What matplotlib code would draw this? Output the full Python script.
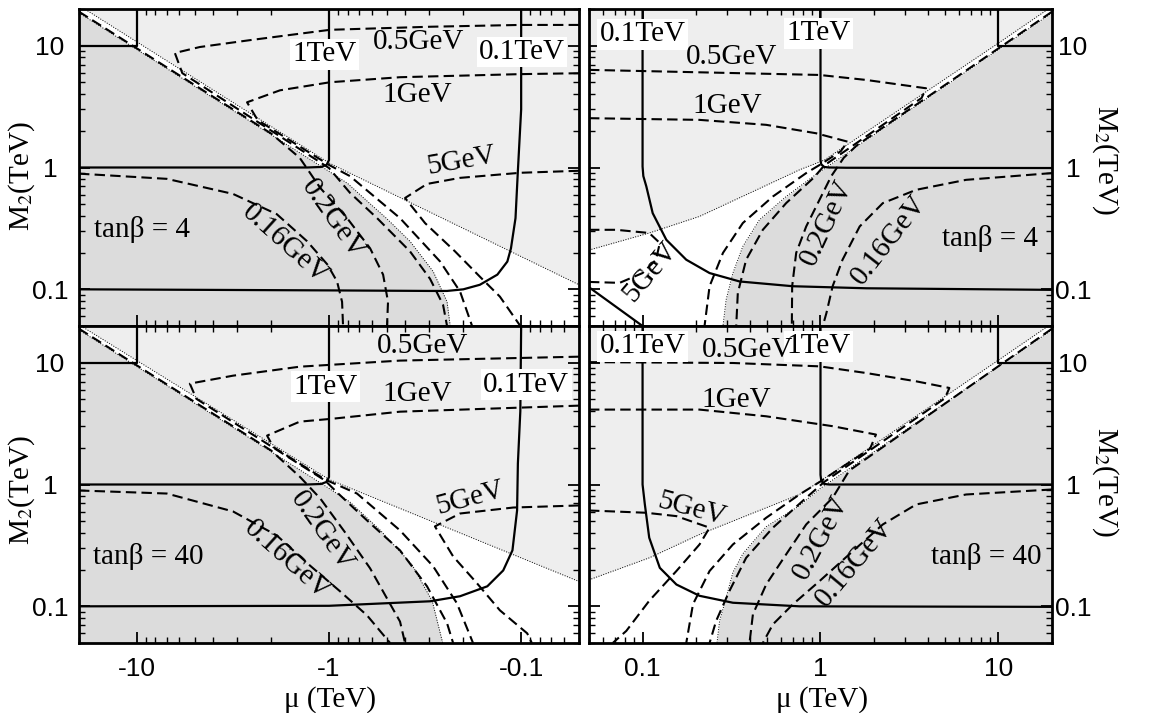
import matplotlib.pyplot as plt
from matplotlib.ticker import NullFormatter

plt.rcParams['font.family'] = ['Liberation Serif', 'DejaVu Serif']
plt.rcParams['mathtext.fontset'] = 'stix'

LIGHT = '#eeeeee'
DARK = '#dcdcdc'

# every curve is (mu, M2) in TeV; in the mu<0 panels mu is kept as |mu|
tev10 = ([20, 10, 10], [10, 10, 20])

# top left: tan(beta) = 4, mu < 0
tl_dot = ([20, 1.0, 0.05], [21.4, 1.09, 0.109])
tl_dark = ([20, 1.0, 0.8, 0.634, 0.5, 0.379, 0.287, 0.243, 0.234],
           [18.6, 0.93, 0.74, 0.531, 0.38, 0.248, 0.14, 0.079, 0.05])
tl_tev1 = ([20, 1.3, 1.1, 1.03, 1.0, 1.0], [1.0, 1.0, 1.01, 1.05, 1.15, 20])
tl_tev01 = ([20, 1.0, 0.3, 0.243, 0.2, 0.164, 0.133, 0.118, 0.113, 0.107, 0.104, 0.1, 0.1],
            [0.1, 0.098, 0.097, 0.097, 0.1, 0.109, 0.132, 0.169, 0.217, 0.384, 0.94, 3.0, 20])
tl_gev016 = ([20, 6.98, 3.16, 1.87, 1.3, 1.02, 0.908, 0.855, 0.845],
             [0.89, 0.807, 0.607, 0.414, 0.248, 0.16, 0.116, 0.079, 0.05])
tl_gev02 = ([20, 2.0, 1.42, 1.11, 0.805, 0.611, 0.523, 0.493, 0.499],
            [19.0, 1.9, 1.2, 0.679, 0.384, 0.217, 0.132, 0.079, 0.05])
tl_gev05 = ([0.05, 0.101, 0.298, 0.988, 2.58, 4.7, 6.34, 5.8, 1.0, 0.778, 0.562, 0.379, 0.298, 0.255, 0.243],
            [14.8, 14.8, 14.3, 13.5, 11.1, 9.75, 8.71, 5.95, 0.99, 0.62, 0.384, 0.205, 0.122, 0.0748, 0.05])
tl_gev1 = ([0.05, 0.101, 0.427, 0.988, 1.8, 2.67, 2.35, 1.0, 0.778, 0.427, 0.264, 0.208, 0.18],
           [5.94, 5.84, 5.51, 5.01, 4.3, 3.43, 2.45, 1.05, 0.85, 0.384, 0.169, 0.096, 0.05])
tl_gev5 = ([0.05, 0.101, 0.208, 0.309, 0.402, 0.316, 0.221, 0.164, 0.129, 0.101],
           [0.94, 0.905, 0.822, 0.733, 0.562, 0.349, 0.205, 0.127, 0.0871, 0.05])

# bottom left: tan(beta) = 40, mu < 0
bl_dot = ([20, 1.0, 0.05], [20.5, 1.1, 0.16])
bl_dark = ([20, 1.0, 0.78, 0.54, 0.37, 0.29, 0.256],
           [18.6, 0.93, 0.72, 0.42, 0.22, 0.11, 0.05])
bl_tev1 = ([20, 1.3, 1.1, 1.03, 1.0, 1.0], [1.0, 1.0, 1.01, 1.05, 1.15, 20])
bl_tev01 = ([20, 1.0, 0.298, 0.208, 0.15, 0.124, 0.111, 0.105, 0.104, 0.101, 0.1],
            [0.1, 0.101, 0.11, 0.121, 0.146, 0.197, 0.288, 0.612, 1.49, 4.0, 20])
bl_gev016 = ([20, 6.98, 3.16, 1.87, 1.26, 0.877, 0.634, 0.481],
             [0.893, 0.843, 0.601, 0.382, 0.217, 0.133, 0.0843, 0.05])
bl_gev02 = ([20, 2.0, 1.42, 1.11, 0.83, 0.611, 0.499, 0.427, 0.402],
            [19.0, 1.9, 1.16, 0.767, 0.41, 0.205, 0.116, 0.075, 0.05])
bl_gev05 = ([0.05, 0.427, 1.42, 3.16, 5.3, 4.9, 1.05, 0.9, 0.634, 0.427, 0.309, 0.243, 0.226],
            [11.2, 10.4, 9.27, 7.82, 6.73, 5.05, 1.08, 0.85, 0.507, 0.288, 0.146, 0.0726, 0.05])
bl_gev1 = ([0.05, 0.427, 0.953, 1.42, 2.1, 1.95, 1.05, 0.715, 0.427, 0.287, 0.216, 0.178],
           [4.44, 3.96, 3.47, 3.28, 2.52, 2.03, 1.1, 0.843, 0.42, 0.213, 0.106, 0.05])
bl_gev5 = ([0.05, 0.11, 0.208, 0.281, 0.226, 0.17, 0.129, 0.093, 0.088],
           [0.673, 0.647, 0.578, 0.453, 0.257, 0.155, 0.0927, 0.06, 0.05])

# top right: tan(beta) = 4, mu > 0
tr_dot = ([0.05, 0.109, 0.209, 0.399, 0.762, 1.05, 10, 20],
          [0.21, 0.29, 0.397, 0.616, 0.957, 1.15, 10.5, 21])
tr_dark = ([20, 1.0, 0.946, 0.641, 0.454, 0.366, 0.322, 0.295, 0.283],
           [18.6, 0.93, 0.88, 0.578, 0.372, 0.225, 0.136, 0.0822, 0.05])
tr_tev1 = ([1.0, 1.0, 1.01, 1.05, 1.12, 1.4, 20], [20, 1.15, 1.06, 1.01, 1.0, 0.995, 0.99])
tr_tev01 = ([0.1, 0.1, 0.101, 0.105, 0.114, 0.136, 0.176, 0.238, 0.351, 0.7, 1.81, 20],
            [20, 1.02, 0.85, 0.699, 0.422, 0.255, 0.175, 0.136, 0.116, 0.106, 0.102, 0.099])
tr_low = ([0.05, 0.1], [0.104, 0.05])
tr_gev016 = ([20, 6.58, 3.45, 2.24, 1.66, 1.33, 1.17, 1.08, 1.03],
             [0.9, 0.792, 0.656, 0.51, 0.328, 0.175, 0.106, 0.064, 0.05])
tr_gev02 = ([20, 1.6, 1.35, 1.15, 0.987, 0.831, 0.73, 0.693, 0.69],
            [19.0, 1.52, 1.2, 0.85, 0.543, 0.328, 0.199, 0.106, 0.05])
tr_gev05 = ([0.05, 0.987, 1.81, 3.92, 3.7, 1.05, 0.92, 0.641, 0.474, 0.382, 0.343, 0.336],
            [6.33, 5.75, 5.23, 4.47, 3.72, 1.04, 0.83, 0.51, 0.308, 0.175, 0.0933, 0.05])
tr_gev1 = ([0.05, 0.209, 0.495, 0.945, 1.42, 1.3, 1.0, 0.831, 0.54, 0.366, 0.283, 0.238, 0.223],
           [2.54, 2.46, 2.24, 1.91, 1.63, 1.36, 1.06, 0.9, 0.578, 0.35, 0.199, 0.106, 0.05])
tr_gev5 = ([0.05, 0.0711, 0.109, 0.125, 0.119, 0.1, 0.0743, 0.05],
           [0.308, 0.308, 0.29, 0.24, 0.175, 0.136, 0.113, 0.115])

# bottom right: tan(beta) = 40, mu > 0
br_dot = ([0.05, 0.109, 0.209, 0.399, 0.762, 1.05, 10, 20],
          [0.165, 0.25, 0.389, 0.568, 0.828, 1.12, 10.5, 21])
br_dark = ([20, 1.0, 0.75, 0.495, 0.366, 0.322, 0.295, 0.271, 0.262],
           [18.6, 0.93, 0.66, 0.45, 0.27, 0.19, 0.118, 0.0758, 0.05])
br_tev1 = ([1.0, 1.0, 1.01, 1.05, 1.12, 20], [20, 1.2, 1.07, 1.01, 1.0, 1.0])
br_tev01 = ([0.1, 0.1, 0.103, 0.109, 0.125, 0.155, 0.209, 0.322, 0.762, 20],
            [20, 1.0, 0.686, 0.366, 0.207, 0.151, 0.122, 0.107, 0.1, 0.099])
br_gev016 = ([20, 6.58, 3.45, 2.24, 1.52, 0.987, 0.7, 0.54, 0.474],
             [0.91, 0.828, 0.686, 0.47, 0.284, 0.161, 0.104, 0.0711, 0.05])
br_gev02 = ([20, 1.45, 1.17, 0.831, 0.641, 0.495, 0.417, 0.399],
            [19.0, 1.3, 0.778, 0.47, 0.267, 0.151, 0.086, 0.05])
br_gev05 = ([0.05, 0.322, 0.987, 1.81, 3.45, 5.3, 5.0, 1.05, 0.831, 0.54, 0.382, 0.308, 0.259, 0.238],
            [10.1, 9.94, 9.33, 8.22, 7.03, 6.2, 5.1, 1.05, 0.778, 0.442, 0.25, 0.134, 0.0758, 0.05])
br_gev1 = ([0.05, 0.209, 0.495, 1.17, 2.05, 1.9, 1.0, 0.762, 0.495, 0.322, 0.238, 0.192, 0.176],
           [4.12, 4.12, 3.63, 3.01, 2.57, 1.97, 1.06, 0.828, 0.533, 0.322, 0.195, 0.104, 0.05])
br_gev5 = ([0.05, 0.105, 0.155, 0.238, 0.209, 0.155, 0.109, 0.081, 0.068],
           [0.612, 0.586, 0.55, 0.442, 0.322, 0.195, 0.111, 0.0628, 0.05])

pos_ticks = [0.1, 1, 10]
pos_labels = ['0.1', '1', '10']
neg_labels = ['-0.1', '-1', '-10']
m2_labels = ['0.1', '1', '10']

SOLID = dict(color='black', lw=1.6, zorder=4)
DASH = dict(color='black', lw=1.5, ls=(0, (5, 2.5)), zorder=3)
DOT = dict(color='black', lw=0.7, ls=(0, (1, 1.6)), zorder=2)
TXT = 21
TICK = 19


def setup(ax, neg, bottom, right):
    ax.set_xscale('log')
    ax.set_yscale('log')
    ax.set_xlim((20, 0.05) if neg else (0.05, 20))
    ax.set_ylim(0.05, 20)
    ax.set_facecolor(LIGHT)
    for s in ax.spines.values():
        s.set_linewidth(2)
        s.set_zorder(10)
    ax.set_xticks(pos_ticks, neg_labels if neg else pos_labels,
                  fontfamily='Liberation Sans', fontsize=TICK)
    ax.set_yticks(pos_ticks, m2_labels, fontfamily='Liberation Sans',
                  fontsize=TICK, ha='center')
    ax.xaxis.set_minor_formatter(NullFormatter())
    ax.yaxis.set_minor_formatter(NullFormatter())
    ax.tick_params(which='both', direction='in', top=True, bottom=True,
                   left=True, right=True)
    ax.tick_params(which='major', length=8, width=1.3)
    ax.tick_params(which='minor', length=4.5, width=1.0)
    ax.tick_params(axis='x', pad=10, labelbottom=bottom)
    if right:
        ax.tick_params(axis='y', labelleft=False, labelright=True, pad=15)
    else:
        ax.tick_params(axis='y', pad=21)


def panel(ax, dot, dark, solids, dashes, labels):
    ax.fill_between(dot[0], dot[1], 1e-3, color='white', lw=0, zorder=1)
    ax.fill_between(dark[0], dark[1], 1e-3, color=DARK, lw=0, zorder=1)
    ax.plot(dot[0], dot[1], **DOT)
    ax.plot(dark[0], dark[1], **DOT)
    for c in dashes:
        ax.plot(c[0], c[1], **DASH)
    for c in solids:
        ax.plot(c[0], c[1], **SOLID)
    for text, x, y, rot, boxed in labels:
        kw = dict(fontsize=TXT, ha='center', va='center', rotation=rot,
                  rotation_mode='anchor', zorder=6)
        if boxed:
            kw['bbox'] = dict(boxstyle='square,pad=0.08', fc='white', ec='none')
        ax.text(x, y, text, **kw)


W, H = 1164, 713
fig = plt.figure(figsize=(W / 100, H / 100), dpi=100)


def box(x0, y0, x1, y1):
    return [x0 / W, 1 - y1 / H, (x1 - x0) / W, (y1 - y0) / H]


ax_tl = fig.add_axes(box(79, 9, 579, 326))
ax_bl = fig.add_axes(box(79, 326, 579, 643))
ax_tr = fig.add_axes(box(589, 9, 1052, 326))
ax_br = fig.add_axes(box(589, 326, 1052, 643))

setup(ax_tl, True, False, False)
setup(ax_bl, True, True, False)
setup(ax_tr, False, False, True)
setup(ax_br, False, True, True)

panel(ax_tl, tl_dot, tl_dark, [tev10, tl_tev1, tl_tev01],
      [tl_gev016, tl_gev02, tl_gev05, tl_gev1, tl_gev5],
      [('1TeV', 1.06, 8.5, 0, True), ('0.1TeV', 0.099, 8.9, 0, True),
       ('0.5GeV', 0.34, 10.7, 0, False), ('1GeV', 0.348, 3.92, 0, False),
       ('5GeV', 0.205, 1.14, 10, False), ('0.2GeV', 0.953, 0.377, -55, False),
       ('0.16GeV', 1.69, 0.234, -42, False), ('tanβ = 4', 9.4, 0.311, 0, False)])

panel(ax_bl, bl_dot, bl_dark, [tev10, bl_tev1, bl_tev01],
      [bl_gev016, bl_gev02, bl_gev05, bl_gev1, bl_gev5],
      [('1TeV', 1.04, 6.36, 0, True), ('0.1TeV', 0.094, 6.6, 0, True),
       ('0.5GeV', 0.324, 13.8, 0, False), ('1GeV', 0.348, 5.57, 0, False),
       ('5GeV', 0.185, 0.767, 15, False), ('0.2GeV', 1.09, 0.412, -55, False),
       ('0.16GeV', 1.66, 0.238, -42, False), ('tanβ = 40', 8.77, 0.257, 0, False)])

panel(ax_tr, tr_dot, tr_dark, [tev10, tr_tev1, tr_tev01, tr_low],
      [tr_gev016, tr_gev02, tr_gev05, tr_gev1, tr_gev5],
      [('0.1TeV', 0.1, 12.4, 0, True), ('1TeV', 0.974, 12.6, 0, True),
       ('0.5GeV', 0.318, 8.02, 0, False), ('1GeV', 0.298, 3.2, 0, False),
       ('5GeV', 0.11, 0.14, 50, False), ('0.2GeV', 1.08, 0.35, 65, False),
       ('0.16GeV', 2.44, 0.255, 52, False), ('tanβ = 4', 8.98, 0.26, 0, False)])

panel(ax_br, br_dot, br_dark, [tev10, br_tev1, br_tev01],
      [br_gev016, br_gev02, br_gev05, br_gev1, br_gev5],
      [('0.1TeV', 0.1, 13.6, 0, True), ('1TeV', 0.97, 13.6, 0, True),
       ('0.5GeV', 0.389, 12.6, 0, False), ('1GeV', 0.336, 4.97, 0, False),
       ('5GeV', 0.188, 0.624, -15, False), ('0.2GeV', 1.01, 0.366, 62, False),
       ('0.16GeV', 1.55, 0.228, 50, False), ('tanβ = 40', 8.53, 0.255, 0, False)])

ylab = 'M$_2$(TeV)'
fig.text(22 / W, 1 - 176 / H, ylab, rotation=90, ha='center', va='center', fontsize=21)
fig.text(22 / W, 1 - 490 / H, ylab, rotation=90, ha='center', va='center', fontsize=21)
fig.text(1105 / W, 1 - 160 / H, ylab, rotation=270, ha='center', va='center', fontsize=21)
fig.text(1105 / W, 1 - 482 / H, ylab, rotation=270, ha='center', va='center', fontsize=21)
fig.text(330 / W, 1 - 700 / H, 'μ (TeV)', ha='center', va='center', fontsize=21)
fig.text(822 / W, 1 - 700 / H, 'μ (TeV)', ha='center', va='center', fontsize=21)

fig.savefig('out.png', dpi=100, facecolor='white')
